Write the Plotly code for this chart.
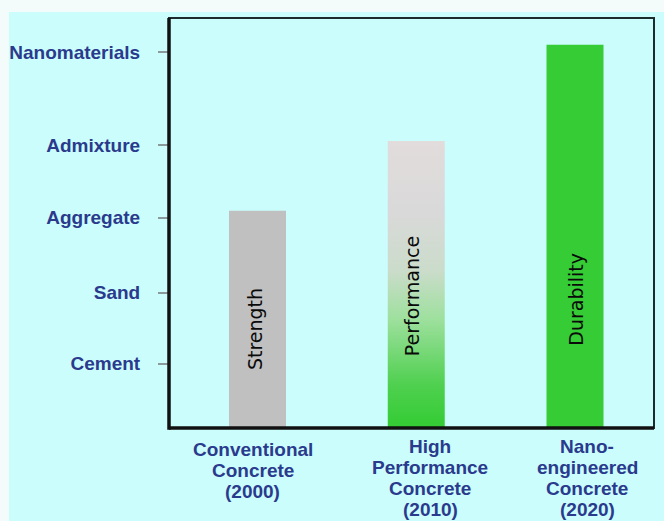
import plotly.graph_objects as go

# --- data -------------------------------------------------------------------
category_lines = [
    ["Conventional", "Concrete", "(2000)"],
    ["High", "Performance", "Concrete", "(2010)"],
    ["Nano-", "engineered", "Concrete", "(2020)"],
]
bar_labels = ["Strength", "Performance", "Durability"]
bar_values = [53.0, 70.0, 93.5]
level_names = ["Cement", "Sand", "Aggregate", "Admixture", "Nanomaterials"]
level_values = [15.7, 33.0, 51.3, 69.0, 91.6]

# --- styling ----------------------------------------------------------------
W, H = 664, 521
ML, MR, MT, MB = 169, 10, 18, 93
PW, PH = W - ML - MR, H - MT - MB

BG = "#CBFDFD"
NAVY = "#2A3A8C"
BAR_COLORS = ["#C0C0C0", "#33CC33", "#35CC35"]
BAR_OPACITY = [1, 0, 1]          # middle bar is drawn with a gradient fill
GRADIENT = [
    [0.00, "#33CC33"],
    [0.15, "#4FD04F"],
    [0.38, "#9EE09E"],
    [0.55, "#CBDCCB"],
    [0.75, "#D9D9D9"],
    [1.00, "#E2DCDC"],
]
BAR_WIDTH = 0.359
x_pos = list(range(len(bar_values)))

label_mid = [24.0, 32.2, 31.3]       # vertical centre of text inside bars
label_dx = [-3, -4, 1]
cat_dx = [-5, 14, 12]
cat_first = [21.5, 18.5, 18.5]
cat_step = 21.0


def px_x(p):
    return (p - ML) / PW


def px_y(p):
    return (H - MB - p) / PH


fig = go.Figure()

fig.add_trace(go.Bar(
    x=x_pos, y=bar_values, width=BAR_WIDTH,
    marker=dict(color=BAR_COLORS, opacity=BAR_OPACITY, line=dict(width=0)),
    hoverinfo="skip", showlegend=False,
))

# gradient-filled bar
gi = 1
gx0, gx1 = x_pos[gi] - BAR_WIDTH / 2, x_pos[gi] + BAR_WIDTH / 2
fig.add_trace(go.Scatter(
    x=[gx0, gx1, gx1, gx0, gx0],
    y=[0, 0, bar_values[gi], bar_values[gi], 0],
    mode="lines", line=dict(width=0), fill="toself",
    fillgradient=dict(type="vertical", colorscale=GRADIENT,
                      start=0, stop=bar_values[gi]),
    hoverinfo="skip", showlegend=False,
))

annotations = []
for i, txt in enumerate(bar_labels):
    annotations.append(dict(
        x=x_pos[i], y=label_mid[i], xref="x", yref="y", text=txt,
        textangle=-90, showarrow=False, xshift=label_dx[i],
        font=dict(family="DejaVu Sans", size=19, color="#0A0A0A"),
    ))

for i, lines in enumerate(category_lines):
    for j, line in enumerate(lines):
        annotations.append(dict(
            x=x_pos[i], y=0, xref="x", yref="paper", text=line,
            showarrow=False, xshift=cat_dx[i],
            yanchor="middle", yshift=-(cat_first[i] + j * cat_step),
            font=dict(family="Liberation Sans", size=19, color=NAVY,
                      weight="bold"),
        ))

shapes = [
    # pale border strips along the top and left edges
    dict(type="rect", xref="paper", yref="paper", layer="below",
         x0=px_x(0), x1=px_x(W), y0=px_y(12), y1=px_y(0),
         fillcolor="#F4FBFB", line=dict(width=0)),
    dict(type="rect", xref="paper", yref="paper", layer="below",
         x0=px_x(0), x1=px_x(9), y0=px_y(H), y1=px_y(0),
         fillcolor="#F4FBFB", line=dict(width=0)),
    # chart frame
    dict(type="rect", xref="paper", yref="paper", x0=0, x1=1, y0=0, y1=1,
         line=dict(color="#1C2B2B", width=2)),
    dict(type="line", xref="paper", yref="paper", x0=0, x1=0, y0=-0.004, y1=1,
         line=dict(color="#111111", width=3.5)),
    dict(type="line", xref="paper", yref="paper", x0=0, x1=1, y0=0, y1=0,
         line=dict(color="#111111", width=3.5)),
]

fig.update_layout(
    width=W, height=H,
    margin=dict(l=ML, r=MR, t=MT, b=MB, pad=0),
    paper_bgcolor=BG, plot_bgcolor=BG,
    showlegend=False,
    xaxis=dict(range=[-0.5575, 2.4976], showticklabels=False, ticks="",
               showgrid=False, zeroline=False, showline=False, fixedrange=True),
    yaxis=dict(range=[0, 100], tickvals=level_values, ticktext=level_names,
               ticks="outside", ticklen=10, tickwidth=1.5, tickcolor="#8A9A9A",
               ticklabelstandoff=14,
               tickfont=dict(family="Liberation Sans", size=19, color=NAVY,
                             weight="bold"),
               showgrid=False, zeroline=False, showline=False, fixedrange=True),
    annotations=annotations,
    shapes=shapes,
)

fig.write_html("out.html")
